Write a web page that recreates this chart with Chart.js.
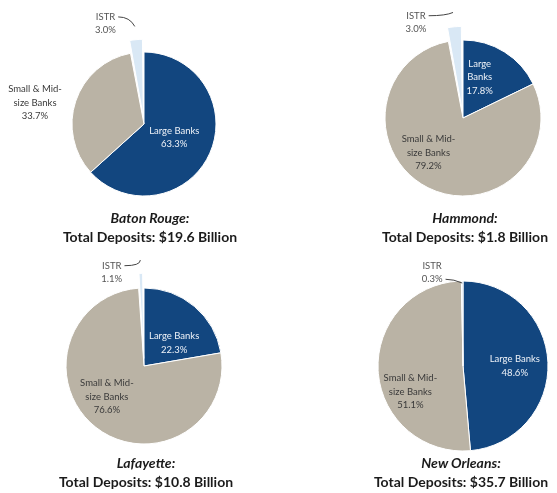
<!DOCTYPE html>
<html>
<head>
<meta charset="utf-8">
<script src="https://cdn.jsdelivr.net/npm/chart.js@4"></script>
<style>
body { margin: 0; background: #fff; }
#wrap { position: relative; width: 557px; height: 493px; overflow: hidden; }
canvas { position: absolute; }
.ttl { position: absolute; width: 260px; text-align: center; font-family: Lato, sans-serif; font-weight: bold; color: #1b1b1b; font-size: 14px; line-height: 19px; }
.ttl i { display: block; }
</style>
</head>
<body>
<div id="wrap">
<canvas id="c0" width="288" height="240" style="left:0px;top:4px"></canvas>
<canvas id="c1" width="188" height="236" style="left:369px;top:0px"></canvas>
<canvas id="c2" width="260" height="224" style="left:14px;top:254px"></canvas>
<canvas id="c3" width="188" height="220" style="left:369px;top:256px"></canvas>
</div>
<script>

// data (percent of total deposits)
const categories = ["Large Banks", "Small & Mid-size Banks", "ISTR"]
const markets = ["Baton Rouge", "Hammond", "Lafayette", "New Orleans"]
const totals = [19.6, 1.8, 10.8, 35.7]

const batonRouge = [63.3, 33.7, 3.0]
const hammond = [17.8, 79.2, 3.0]
const lafayette = [22.3, 76.6, 1.1]
const newOrleans = [48.6, 51.1, 0.3]

const colors = ["#12467f", "#bab3a5", "#d9e8f5"]
const labelColors = ["#eef2f8", "#3a3a3a", "#555555"]

// per chart layout: radius, istr offset, label wrap and placement
const layouts = [
{
id: "c0", values: batonRouge, radius: 72, offset: 28, titleX: 150, titleY: 208,
names: [["Large Banks"], ["Small & Mid-", "size Banks"], ["ISTR"]],
place: [{f:0.46, dx:0, dy:0}, {f:1.45, dx:-10, dy:12}, {f:1.4, dx:-29, dy:0, leader:0, bend:0.7}]
},
{
id: "c1", values: hammond, radius: 78, offset: 30, titleX: 465, titleY: 208,
names: [["Large", "Banks"], ["Small & Mid-", "size Banks"], ["ISTR"]],
place: [{f:0.5, dx:-4, dy:-8}, {f:0.5, dx:-17, dy:0}, {f:1.23, dx:-38, dy:0, leader:0, bend:0.7}]
},
{
id: "c2", values: lafayette, radius: 78, offset: 30, titleX: 146, titleY: 453,
names: [["Large Banks"], ["Small & Mid-", "size Banks"], ["ISTR"]],
place: [{f:0.5, dx:5, dy:7}, {f:0.5, dx:-13, dy:0}, {f:1.2, dx:-29, dy:0, leader:0, bend:1}]
},
{
id: "c3", values: newOrleans, radius: 85, offset: 0, titleX: 461, titleY: 453,
names: [["Large Banks"], ["Small & Mid-", "size Banks"], ["ISTR"]],
place: [{f:0.61, dx:0, dy:2}, {f:0.62, dx:0, dy:23}, {f:1.1, dx:-30, dy:0, leader:1, bend:0.5}]
}
]

const sliceLabels = {
id: "sliceLabels",
afterDatasetsDraw(chart, args, opts){

let ctx = chart.ctx
let meta = chart.getDatasetMeta(0)
let values = chart.data.datasets[0].data
let offsets = chart.data.datasets[0].offset
let lh = 13.5

ctx.save()
ctx.font = "9.5px Lato"
ctx.textAlign = "center"
ctx.textBaseline = "middle"

meta.data.forEach((arc, i) => {

let p = arc.getProps(["x", "y", "startAngle", "endAngle", "outerRadius"], true)
let mid = (p.startAngle + p.endAngle) / 2
let pl = opts.place[i]
let cx = p.x + Math.cos(mid) * pl.f * p.outerRadius + pl.dx
let cy = p.y + Math.sin(mid) * pl.f * p.outerRadius + pl.dy
let lines = opts.names[i].concat(values[i].toFixed(1) + "%")
let top = cy - (lines.length - 1) / 2 * lh

ctx.fillStyle = labelColors[i]
lines.forEach((t, k) => ctx.fillText(t, cx, top + k * lh))

if(pl.leader !== undefined){
let w = ctx.measureText(lines[pl.leader]).width
let sx = cx + w / 2 + 3
let sy = top + pl.leader * lh
let rr = p.outerRadius + offsets[i] - 2
let ex = p.x + Math.cos(mid) * rr
let ey = p.y + Math.sin(mid) * rr
ctx.strokeStyle = "#444"
ctx.lineWidth = 1
ctx.beginPath()
ctx.moveTo(sx, sy)
ctx.quadraticCurveTo(sx + (ex - sx) * pl.bend, sy, ex, ey)
ctx.stroke()
}

})

ctx.restore()

}
}

layouts.forEach((lay, n) => {

new Chart(document.getElementById(lay.id), {
type: "pie",
data: {
labels: categories,
datasets: [{
data: lay.values,
backgroundColor: colors,
borderColor: "#ffffff",
borderWidth: 1,
radius: lay.radius,
offset: [0, 0, lay.offset]
}]
},
options: {
responsive: false,
animation: false,
layout: { padding: 0 },
plugins: {
legend: { display: false },
tooltip: { enabled: false },
sliceLabels: { names: lay.names, place: lay.place }
}
},
plugins: [sliceLabels]
})

let t = document.createElement("div")
t.className = "ttl"
t.style.left = (lay.titleX - 130) + "px"
t.style.top = lay.titleY + "px"
t.innerHTML = "<i>" + markets[n] + ":</i>Total Deposits: $" + totals[n].toFixed(1) + " Billion"
document.getElementById("wrap").appendChild(t)

})

</script>
</body>
</html>
